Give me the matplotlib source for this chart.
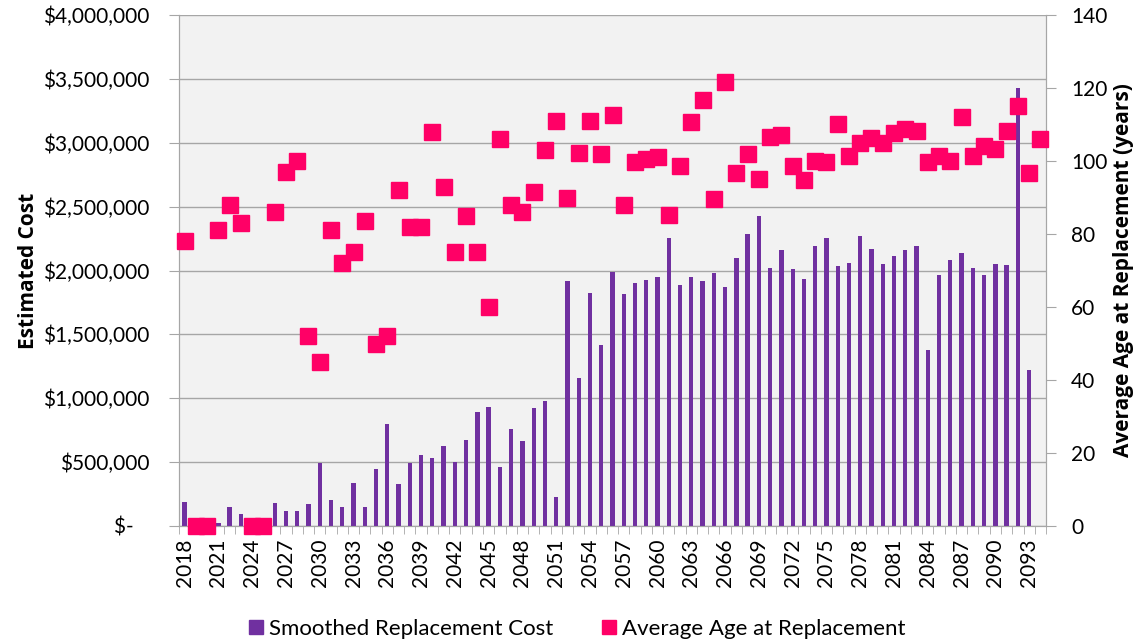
import numpy as np
import matplotlib.pyplot as plt
from matplotlib.ticker import FuncFormatter, FixedLocator

years = list(range(2018, 2095))

# smoothed replacement cost ($)
cost = [190000, 0, 0, 27000, 150000, 90000, 0, 0, 180000, 115000,
        115000, 170000, 490000, 205000, 150000, 340000, 150000, 445000, 800000, 330000,
        495000, 555000, 535000, 630000, 500000, 670000, 895000, 935000, 465000, 760000,
        665000, 920000, 980000, 225000, 1918000, 1160000, 1823000, 1419000, 1991000, 1815000,
        1902000, 1923000, 1950000, 2258000, 1888000, 1947000, 1920000, 1982000, 1872000, 2098000,
        2285000, 2430000, 2020000, 2160000, 2009000, 1934000, 2193000, 2255000, 2036000, 2055000,
        2271000, 2166000, 2050000, 2112000, 2160000, 2190000, 1376000, 1964000, 2080000, 2136000,
        2020000, 1961000, 2050000, 2042000, 3425000, 1225000, 0]

# average age at replacement (years)
age = [78, 0, 0, 81, 88, 83, 0, 0, 86, 97,
       100, 52, 45, 81, 72, 75, 83.5, 50, 52, 92,
       82, 82, 108, 93, 75, 85, 75, 60, 106, 88,
       86, 91.6, 103, 111, 90, 102.3, 111, 102, 112.7, 88,
       99.6, 100.6, 101.2, 85.3, 98.7, 110.6, 116.6, 89.5, 121.6, 96.6,
       102, 95, 106.7, 107, 98.7, 94.8, 100, 99.6, 110.2, 101.3,
       104.8, 106.3, 104.9, 107.6, 108.7, 108.2, 99.6, 101.3, 99.9, 112,
       101.3, 104.1, 103.4, 108.2, 115.1, 96.6, 106]

plt.rcParams['font.family'] = ['Lato', 'DejaVu Sans']
fs = 15
bold_font = ['Open Sans', 'DejaVu Sans']

fig = plt.figure(figsize=(11.37, 6.42), dpi=100)
ax = fig.add_axes([0.1574, 0.1807, 0.7626, 0.7959])
ax.set_facecolor('#F2F2F2')

x = np.arange(len(years))
ax.bar(x, cost, width=0.38, color='#7030A0', zorder=3)

ax.set_xlim(-0.5, len(years) - 0.5)
ax.set_ylim(0, 4000000)
ax.set_yticks(np.arange(0, 4000001, 500000))
ax.yaxis.set_major_formatter(FuncFormatter(lambda v, p: '$-   ' if v == 0 else '${:,.0f}'.format(v)))
ax.grid(axis='y', color='#A6A6A6', linewidth=1, zorder=0)

ax.set_xticks(x[::3])
ax.set_xticklabels([str(y) for y in years[::3]], rotation=90)
ax.xaxis.set_minor_locator(FixedLocator(np.arange(-0.5, len(years), 1)))
ax.tick_params(axis='x', which='major', length=0, labelsize=fs, pad=9)
ax.tick_params(axis='x', which='minor', length=6, color='#A6A6A6')
ax.tick_params(axis='y', length=7, color='#A6A6A6', labelsize=fs, pad=14)

for s in ['left', 'bottom', 'right', 'top']:
    ax.spines[s].set_color('#A6A6A6')
ax.spines['top'].set_visible(False)

ax.set_ylabel('Estimated Cost', fontsize=fs, fontweight='bold', family=bold_font, labelpad=3)

ax2 = ax.twinx()
ax2.plot(x, age, linestyle='none', marker='s', markersize=12, color='#FF0066',
         clip_on=False, zorder=4)
ax2.set_ylim(0, 140)
ax2.set_yticks(np.arange(0, 141, 20))
ax2.tick_params(axis='y', length=7, color='#A6A6A6', labelsize=fs, pad=11)
for s in ['left', 'bottom', 'right', 'top']:
    ax2.spines[s].set_color('#A6A6A6')
ax2.spines['top'].set_visible(False)
ax2.set_ylabel('Average Age at Replacement (years)', fontsize=fs, fontweight='bold',
               family=bold_font, labelpad=4)

h1 = [plt.Line2D([], [], linestyle='none', marker='s', markersize=10, color='#7030A0')]
h2 = [plt.Line2D([], [], linestyle='none', marker='s', markersize=10, color='#FF0066')]
fig.legend(h1 + h2, ['Smoothed Replacement Cost', 'Average Age at Replacement'],
           loc='center', bbox_to_anchor=(0.506, 0.02), ncol=2, frameon=False,
           fontsize=fs + 1, handletextpad=0.1, columnspacing=2.0, handlelength=1)

fig.savefig('out.png', dpi=100)
